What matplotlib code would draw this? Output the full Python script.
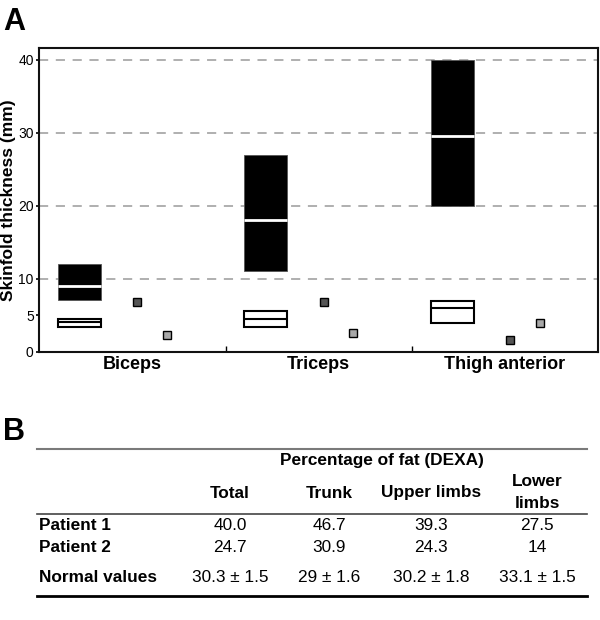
import matplotlib
matplotlib.use("Agg")
import matplotlib.pyplot as plt
from matplotlib.lines import Line2D
from matplotlib.ticker import FixedLocator

plt.rcParams['font.family'] = ['Liberation Sans', 'DejaVu Sans']

# ---------------- data: panel A ----------------
sites = ["Biceps", "Triceps", "Thigh anterior"]
normal_low = [7.0, 11.0, 20.0]
normal_high = [12.0, 27.0, 40.0]
normal_median = [9.0, 18.0, 29.5]
ctrl_low = [3.4, 3.4, 3.95]
ctrl_high = [4.5, 5.5, 6.95]
ctrl_median = [4.0, 4.4, 6.0]
patient1 = [6.75, 6.75, 1.55]
patient2 = [2.25, 2.5, 3.95]
y_ticks = [0, 5, 10, 20, 30, 40]
grid_vals = [10, 20, 30, 40]

# ---------------- data: panel B ----------------
table_title = "Percentage of fat (DEXA)"
col_labels = ["Total", "Trunk", "Upper limbs", "Lower\nlimbs"]
row_labels = ["Patient 1", "Patient 2", "Normal values"]
p1_fat = ["40.0", "46.7", "39.3", "27.5"]
p2_fat = ["24.7", "30.9", "24.3", "14"]
normal_fat = ["30.3 \u00b1 1.5", "29 \u00b1 1.6", "30.2 \u00b1 1.8", "33.1 \u00b1 1.5"]

W, H = 600, 620
fig = plt.figure(figsize=(6.0, 6.2), dpi=100)

def fx(px):
    return px / W

def fy(py):
    return 1 - py / H

ax = fig.add_axes([fx(39.3), fy(351.5), fx(598) - fx(39.3), fy(48.3) - fy(351.5)])

x = list(range(len(sites)))
box_off = -0.283
box_w = 0.231
p1_off = 0.027
p2_off = 0.187
bx = [i + box_off for i in x]

for g in grid_vals:
    ax.axhline(g, color="#9a9a9a", lw=1.1, dashes=(6, 5), zorder=0.5)

ax.bar(bx, [h - l for h, l in zip(normal_high, normal_low)], bottom=normal_low,
       width=box_w, color="black", edgecolor="#555555", linewidth=0.6, zorder=2)
ax.hlines(normal_median, [b - box_w / 2 for b in bx], [b + box_w / 2 for b in bx],
          colors="white", lw=2.0, zorder=3)

ax.bar(bx, [h - l for h, l in zip(ctrl_high, ctrl_low)], bottom=ctrl_low,
       width=box_w, color="white", edgecolor="black", linewidth=1.5, zorder=2)
ax.hlines(ctrl_median, [b - box_w / 2 for b in bx], [b + box_w / 2 for b in bx],
          colors="black", lw=1.5, zorder=3)

ax.plot([i + p1_off for i in x], patient1, ls="none", marker="s", ms=6.3,
        mfc="#555555", mec="black", mew=1.0, zorder=4)
ax.plot([i + p2_off for i in x], patient2, ls="none", marker="s", ms=6.3,
        mfc="#a8a8a8", mec="black", mew=1.0, zorder=4)

ax.set_xlim(-0.5, len(sites) - 0.5)
ax.set_ylim(0, 41.6)
ax.set_yticks(y_ticks)
ax.set_yticklabels([str(t) for t in y_ticks], fontsize=10)
ax.tick_params(axis="y", direction="out", length=2.5, width=1.2, pad=1.5)

ax.set_xticks(x)
ax.set_xticklabels(sites, fontsize=13, fontweight="bold")
ax.tick_params(axis="x", which="major", length=0, pad=3.5)
ax.xaxis.set_minor_locator(FixedLocator([i + 0.5 for i in x[:-1]]))
ax.tick_params(axis="x", which="minor", direction="in", length=4.5, width=1.0)

for s in ax.spines.values():
    s.set_linewidth(1.5)
    s.set_color("#111111")

ax.set_ylabel("Skinfold thickness (mm)", fontsize=12.5, fontweight="bold")
ax.yaxis.set_label_coords(-0.041, 0.5)

fig.text(fx(3), fy(30), "A", fontsize=22, fontweight="bold", ha="left", va="baseline")
fig.text(fx(3), fy(440), "B", fontsize=22, fontweight="bold", ha="left", va="baseline")

# ---------------- panel B table ----------------
x0, x1 = 37, 587
fig.add_artist(Line2D([fx(x0), fx(x1)], [fy(448.5), fy(448.5)], color="#7a7a7a", lw=1.5))
fig.add_artist(Line2D([fx(x0), fx(x1)], [fy(513.5), fy(513.5)], color="#444444", lw=1.2))
fig.add_artist(Line2D([fx(x0), fx(x1)], [fy(595.5), fy(595.5)], color="black", lw=2.0))

fs = 12.4
col_x = [230, 329, 431, 537]
fig.text(fx(sum(col_x) / len(col_x)), fy(461), table_title, fontsize=fs,
         fontweight="bold", ha="center", va="center")
for cx, lab in zip(col_x, col_labels):
    lines = lab.split("\n")
    if len(lines) == 1:
        fig.text(fx(cx), fy(493), lines[0], fontsize=fs, fontweight="bold",
                 ha="center", va="center")
    else:
        fig.text(fx(cx), fy(482), lines[0], fontsize=fs, fontweight="bold",
                 ha="center", va="center")
        fig.text(fx(cx), fy(503), lines[1], fontsize=fs, fontweight="bold",
                 ha="center", va="center")

row_y = [526, 547, 577]
for ry, rl, vals in zip(row_y, row_labels, [p1_fat, p2_fat, normal_fat]):
    fig.text(fx(39), fy(ry), rl, fontsize=fs, fontweight="bold", ha="left", va="center")
    for cx, v in zip(col_x, vals):
        fig.text(fx(cx), fy(ry), v, fontsize=fs, ha="center", va="center")

fig.savefig("out.png", dpi=100)
